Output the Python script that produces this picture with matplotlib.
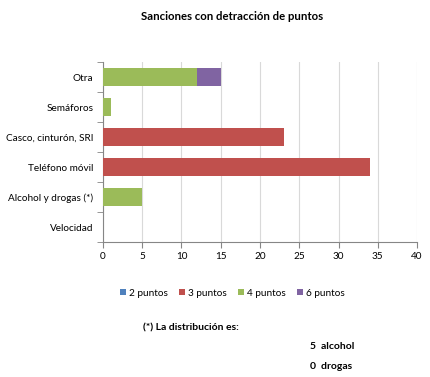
import matplotlib
matplotlib.use("Agg")
import matplotlib.pyplot as plt
import numpy as np

plt.rcParams['font.family'] = ['Lato', 'DejaVu Sans']

categories = ["Velocidad", "Alcohol y drogas (*)", "Teléfono móvil",
              "Casco, cinturón, SRI", "Semáforos", "Otra"]
series_names = ["2 puntos", "3 puntos", "4 puntos", "6 puntos"]
pts2 = [0, 0, 0, 0, 0, 0]
pts3 = [0, 0, 34, 23, 0, 0]
pts4 = [0, 5, 0, 0, 1, 12]
pts6 = [0, 0, 0, 0, 0, 3]
colors = ["#4F81BD", "#C0504D", "#9BBB59", "#8064A2"]
xticks = [0, 5, 10, 15, 20, 25, 30, 35, 40]

fig = plt.figure(figsize=(4.3, 3.77), dpi=100)
ax = fig.add_axes([0.2395, 0.358, 0.7303, 0.4775])

y = np.arange(len(categories))
left = np.zeros(len(categories))
for name, vals, c in zip(series_names, [pts2, pts3, pts4, pts6], colors):
    vals = np.array(vals, dtype=float)
    ax.barh(y, vals, left=left, height=0.63, color=c, label=name, zorder=3)
    left += vals

ax.set_xlim(0, 40)
ax.set_ylim(-0.5, len(categories) - 0.5)
ax.set_xticks(xticks)
ax.set_xticklabels([str(v) for v in xticks], fontsize=7.2)
ax.set_yticks(y)
ax.set_yticklabels(categories, fontsize=7.2)
ax.set_yticks(np.arange(-0.5, len(categories)), minor=True)
ax.tick_params(axis='y', which='major', length=0, pad=7)
ax.tick_params(axis='y', which='minor', length=4, color='#868686', direction='out')
ax.tick_params(axis='x', which='major', length=4, color='#868686', direction='out', pad=3)
ax.grid(axis='x', color='#D9D9D9', linewidth=0.8, zorder=0)
for s in ['top', 'right']:
    ax.spines[s].set_visible(False)
for s in ['left', 'bottom']:
    ax.spines[s].set_color('#868686')
    ax.spines[s].set_linewidth(0.8)

fig.text(0.54, 0.955, "Sanciones con detracción de puntos", ha='center', va='center',
         fontsize=8.2, fontweight='bold')

handles, labels = ax.get_legend_handles_labels()
fig.legend(handles, labels, loc='center', bbox_to_anchor=(0.54, 0.222), ncol=4,
           fontsize=7.2, frameon=False, handlelength=0.6, handleheight=0.6,
           handletextpad=0.3, columnspacing=1.1)

fig.text(0.332, 0.13, "(*) La distribución es:", ha='left', va='center', fontsize=7.5,
         fontweight='bold')
fig.text(0.721, 0.08, "5  alcohol", ha='left', va='center', fontsize=7.5, fontweight='bold')
fig.text(0.721, 0.029, "0  drogas", ha='left', va='center', fontsize=7.5, fontweight='bold')

fig.savefig("out.png", dpi=100)
